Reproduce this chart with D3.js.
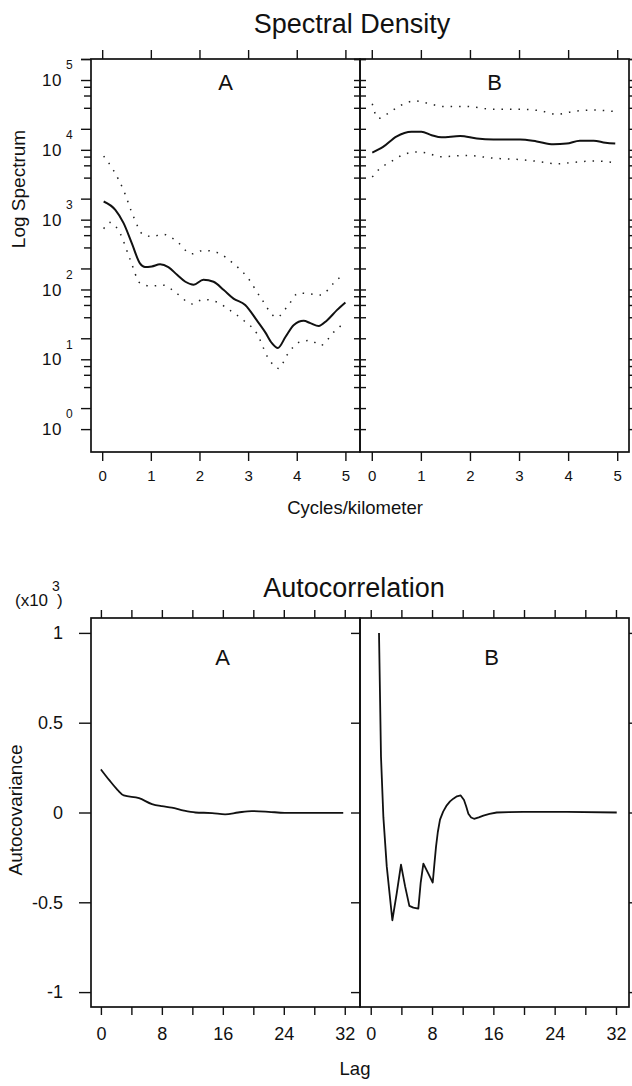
<!DOCTYPE html>
<html><head><meta charset="utf-8">
<script src="https://cdn.jsdelivr.net/npm/d3@7"></script>
<style>
body{margin:0;background:#fff}
svg{font-family:"Liberation Sans",Arial,Helvetica,sans-serif}
</style>
</head><body>
<svg id="c" width="632" height="1086"></svg>
<script>
// ---------- DATA ----------
// Spectral density, panel A (cycles/km -> spectrum)
const freqA      = [0.03,0.27,0.44,0.61,0.78,0.88,1.02,1.19,1.36,1.54,1.71,1.88,2.08,2.29,2.50,2.70,2.94,3.18,3.35,3.49,3.61,3.77,3.94,4.14,4.28,4.45,4.62,4.83,5.00];
const specA      = [1820,1380,891,457,234,209,214,229,209,162,129,117,138,129,98,74,60,36,24.5,17,14.5,21,31,35.5,33,30,36,51,65];
const freqAUp    = [0.03,0.23,0.44,0.64,0.85,1.02,1.26,1.50,1.84,2.08,2.36,2.70,2.98,3.25,3.59,3.80,4.04,4.24,4.49,4.76,4.97];
const specAUp    = [8130,5130,2630,1120,603,575,617,513,324,363,339,234,151,78,40,56,89,87,83,123,170];
const freqALo    = [0.03,0.16,0.37,0.58,0.78,0.99,1.26,1.54,1.85,2.08,2.36,2.63,2.91,3.18,3.42,3.63,3.80,4.07,4.28,4.49,4.76,4.97];
const specALo    = [741,912,631,263,123,112,115,87,62,72,66,50,36,23.4,10.2,7.4,11.5,17.8,18.6,15.8,24.5,33];
// Spectral density, panel B
const freqB      = [0.01,0.23,0.50,0.81,1.01,1.22,1.42,1.80,2.14,2.48,3.02,3.36,3.70,3.97,4.24,4.52,4.76,4.96];
const specB      = [9120,11000,15500,18200,18200,16200,15100,15800,14500,14100,14100,13200,12000,12300,13500,13500,12600,12300];
const freqBBand  = [0.01,0.13,0.33,0.57,0.88,1.12,1.46,1.93,2.48,3.02,3.43,3.77,4.11,4.52,4.92];
const specBUp    = [45700,28200,33100,42700,50100,46800,41700,41700,38000,38000,36300,32400,35500,37200,35500];
const freqBLo    = [0.01,0.16,0.37,0.64,0.91,1.15,1.39,1.93,2.48,3.02,3.43,3.77,4.11,4.52,4.92];
const specBLo    = [4070,5370,6610,8510,9330,8910,7940,8320,7590,7240,6760,6310,6610,6920,6610];
// Autocovariance (x10^3)
const lagA       = [0,1.1,2.2,3.0,5.0,6.7,8.0,9.3,10.9,12.4,14.6,16.3,18.0,19.8,22.0,24.1,28.0,31.8];
const acovA      = [0.24,0.18,0.125,0.095,0.08,0.047,0.035,0.027,0.01,0.0,-0.003,-0.01,0.0,0.008,0.004,-0.002,-0.002,-0.002];
const lagB       = [1.08,1.34,1.65,2.09,2.82,3.39,3.95,4.48,5.04,5.56,6.21,6.52,6.87,7.52,8.09,8.3,8.52,8.75,9.04,9.45,9.92,10.35,10.78,11.25,11.74,12.17,12.45,12.74,13.1,13.48,14.1,14.7,15.5,16.44,18.0,19.9,25.6,32.1];
const acovB      = [1.0,0.31,-0.026,-0.30,-0.60,-0.45,-0.29,-0.41,-0.52,-0.53,-0.535,-0.39,-0.285,-0.34,-0.39,-0.29,-0.19,-0.11,-0.04,0.005,0.04,0.062,0.077,0.09,0.095,0.07,0.035,-0.007,-0.028,-0.035,-0.027,-0.017,-0.008,0.0,0.002,0.003,0.003,0.0];
// Ticks
const specXTicks = [0,1,2,3,4,5];
const specYDecades = [0,1,2,3,4,5];
const specYMinor = [1,2,4,6,8];
const lagTicks   = [0,4,8,12,16,20,24,28,32];
const lagLabels  = [0,8,16,24,32];
const acovTicks  = [-1,-0.5,0,0.5,1];

// ---------- LAYOUT ----------
const svg = d3.select("#c");
const L = 91, M = 360, R = 629;
const T1 = 59, B1 = 452, T2 = 618, B2 = 1007;

const ySpec = d3.scaleLog().domain([0.47, 2e5]).range([B1, T1]);
const xSpecA = d3.scaleLinear().domain([-0.23, 5.3]).range([L, M]);
const xSpecB = d3.scaleLinear().domain([-0.24, 5.24]).range([M, R]);
const yAc = d3.scaleLinear().domain([-1.083, 1.083]).range([B2, T2]);
const xLagA = d3.scaleLinear().domain([-1.3, 34]).range([L, M]);
const xLagB = d3.scaleLinear().domain([-1.4, 33.7]).range([M, R]);

const ink = "#111";
function styleAxis(g, fs){
  g.select(".domain").remove();
  g.selectAll(".tick line").attr("stroke", ink).attr("stroke-width", 1.4);
  g.selectAll(".tick text").attr("fill", ink).attr("font-size", fs).attr("font-family", '"Liberation Sans",Arial,sans-serif');
}

// ---------- SPECTRAL DENSITY ----------
const yTickVals = [];
specYDecades.forEach(k => specYMinor.forEach(m => { const v = m*Math.pow(10,k); if (v <= 2e5) yTickVals.push(v); }));
yTickVals.push(2e5);

// frames
[[L,M],[M,R]].forEach(([a,b]) => svg.append("rect").attr("x",a).attr("y",T1).attr("width",b-a).attr("height",B1-T1)
  .attr("fill","none").attr("stroke",ink).attr("stroke-width",1.7));

// left y axis
const gyl = svg.append("g").attr("transform",`translate(${L},0)`)
  .call(d3.axisLeft(ySpec).tickValues(yTickVals).tickSize(10).tickFormat(""));
styleAxis(gyl, 12);
gyl.selectAll(".tick line").attr("x2", d => { const m = Math.round(d/Math.pow(10,Math.floor(Math.log10(d)+1e-9))); return (m===1||m===2) ? -10 : -7; });
// middle cross ticks
const gml = svg.append("g").attr("transform",`translate(${M},0)`)
  .call(d3.axisLeft(ySpec).tickValues(yTickVals).tickSize(6).tickFormat(""));
styleAxis(gml, 12);
const gmr = svg.append("g").attr("transform",`translate(${M},0)`)
  .call(d3.axisRight(ySpec).tickValues(yTickVals).tickSize(6).tickFormat(""));
styleAxis(gmr, 12);
const gyr = svg.append("g").attr("transform",`translate(${R},0)`)
  .call(d3.axisRight(ySpec).tickValues(yTickVals).tickSize(5).tickFormat(""));
styleAxis(gyr, 12);

// decade labels 10^k
specYDecades.forEach(k => {
  const y = ySpec(Math.pow(10,k));
  svg.append("text").attr("x",62).attr("y",y).attr("dy","0.36em").attr("text-anchor","end")
    .attr("font-size",17).attr("letter-spacing",0.5).attr("fill",ink).text("10");
  svg.append("text").attr("x",66).attr("y",y-15).attr("dy","0.36em")
    .attr("font-size",12).attr("fill",ink).text(k);
});

// x axes
[xSpecA, xSpecB].forEach(xs => {
  const gb = svg.append("g").attr("transform",`translate(0,${B1})`)
    .call(d3.axisBottom(xs).tickValues(specXTicks).tickSize(9).tickPadding(9).tickFormat(d3.format("d")));
  styleAxis(gb, 15);
  const gt = svg.append("g").attr("transform",`translate(0,${T1})`)
    .call(d3.axisTop(xs).tickValues(specXTicks).tickSize(9).tickFormat(""));
  styleAxis(gt, 15);
});

const lineSpec = (xs) => d3.line().x(d => xs(d[0])).y(d => ySpec(d[1])).curve(d3.curveMonotoneX);
const zip = (a,b) => a.map((v,i) => [v,b[i]]);
function drawSpec(xs, fx, fy, dotted){
  svg.append("path").datum(zip(fx,fy)).attr("d", lineSpec(xs)).attr("fill","none")
    .attr("stroke", dotted ? "#222" : ink)
    .attr("stroke-width", dotted ? 1.5 : 2)
    .attr("stroke-dasharray", dotted ? "1.5,7" : null);
}
drawSpec(xSpecA, freqAUp, specAUp, true);
drawSpec(xSpecA, freqALo, specALo, true);
drawSpec(xSpecA, freqA, specA, false);
drawSpec(xSpecB, freqBBand, specBUp, true);
drawSpec(xSpecB, freqBLo, specBLo, true);
drawSpec(xSpecB, freqB, specB, false);

// texts
svg.append("text").attr("x",352).attr("y",33).attr("text-anchor","middle").attr("font-size",27).attr("fill",ink).text("Spectral Density");
svg.append("text").attr("x",(L+M)/2).attr("y",90).attr("text-anchor","middle").attr("font-size",22).attr("fill",ink).text("A");
svg.append("text").attr("x",(M+R)/2).attr("y",90).attr("text-anchor","middle").attr("font-size",22).attr("fill",ink).text("B");
svg.append("text").attr("transform","translate(25,189) rotate(-90)").attr("text-anchor","middle").attr("font-size",19).attr("fill",ink).text("Log Spectrum");
svg.append("text").attr("x",355).attr("y",514).attr("text-anchor","middle").attr("font-size",18.5).attr("fill",ink).text("Cycles/kilometer");

// ---------- AUTOCORRELATION ----------
[[L,M],[M,R]].forEach(([a,b]) => svg.append("rect").attr("x",a).attr("y",T2).attr("width",b-a).attr("height",B2-T2)
  .attr("fill","none").attr("stroke",ink).attr("stroke-width",1.7));

const gal = svg.append("g").attr("transform",`translate(${L},0)`)
  .call(d3.axisLeft(yAc).tickValues(acovTicks).tickSize(12).tickPadding(16).tickFormat(d => String(d)));
styleAxis(gal, 18);
const gam = svg.append("g").attr("transform",`translate(${M},0)`)
  .call(d3.axisLeft(yAc).tickValues(acovTicks).tickSize(9).tickFormat(""));
styleAxis(gam, 18);
const gar = svg.append("g").attr("transform",`translate(${R},0)`)
  .call(d3.axisRight(yAc).tickValues(acovTicks).tickSize(5).tickFormat(""));
styleAxis(gar, 18);

[xLagA, xLagB].forEach(xs => {
  const gb = svg.append("g").attr("transform",`translate(0,${B2})`)
    .call(d3.axisBottom(xs).tickValues(lagTicks).tickSize(8).tickPadding(12)
      .tickFormat(d => lagLabels.includes(d) ? String(d) : ""));
  styleAxis(gb, 18);
  const gt = svg.append("g").attr("transform",`translate(0,${T2})`)
    .call(d3.axisTop(xs).tickValues(lagTicks).tickSize(8).tickFormat(""));
  styleAxis(gt, 18);
});

svg.append("path").datum(zip(lagA, acovA))
  .attr("d", d3.line().x(d => xLagA(d[0])).y(d => yAc(d[1])).curve(d3.curveMonotoneX))
  .attr("fill","none").attr("stroke",ink).attr("stroke-width",1.8);
svg.append("path").datum(zip(lagB, acovB))
  .attr("d", d3.line().x(d => xLagB(d[0])).y(d => yAc(d[1])).curve(d3.curveLinear))
  .attr("fill","none").attr("stroke",ink).attr("stroke-width",1.8).attr("stroke-linejoin","round");

svg.append("text").attr("x",354).attr("y",597).attr("text-anchor","middle").attr("font-size",27).attr("fill",ink).text("Autocorrelation");
svg.append("text").attr("x",(L+M)/2 - 3).attr("y",665).attr("text-anchor","middle").attr("font-size",22).attr("fill",ink).text("A");
svg.append("text").attr("x",(M+R)/2 - 3).attr("y",665).attr("text-anchor","middle").attr("font-size",22).attr("fill",ink).text("B");
svg.append("text").attr("transform","translate(22,810) rotate(-90)").attr("text-anchor","middle").attr("font-size",19).attr("fill",ink).text("Autocovariance");
svg.append("text").attr("x",355).attr("y",1075).attr("text-anchor","middle").attr("font-size",18.5).attr("fill",ink).text("Lag");
// (x10^3)
svg.append("text").attr("x",15).attr("y",606).attr("font-size",17).attr("fill",ink).text("(x10");
svg.append("text").attr("x",52).attr("y",591).attr("font-size",14).attr("fill",ink).text("3");
svg.append("text").attr("x",57).attr("y",606).attr("font-size",17).attr("fill",ink).text(")");
</script>
</body></html>
